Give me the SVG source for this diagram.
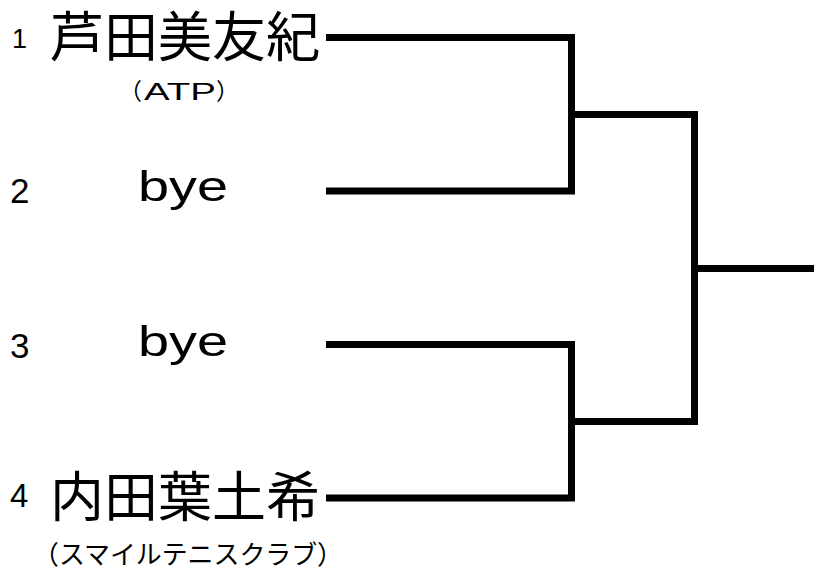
<svg xmlns="http://www.w3.org/2000/svg" width="814" height="568" viewBox="0 0 814 568">
<style>
.num{font-family:"Liberation Sans","Noto Sans CJK JP",sans-serif;fill:#000}
.name{font-family:"Noto Sans CJK JP",sans-serif;font-size:54px;fill:#000}
.club{font-family:"Noto Sans CJK JP",sans-serif;fill:#000}
.lat{font-family:"Liberation Sans",sans-serif}
.bye{font-family:"Liberation Sans",sans-serif;font-size:42px;fill:#000}
.ln{fill:none;stroke:#000;stroke-width:7;stroke-linejoin:miter;stroke-linecap:butt}
</style>
<rect width="814" height="568" fill="#fff"/>
<g id="player1">
<text class="num" x="12" y="48" font-size="27">1</text>
<text class="name" x="50" y="57">芦田美友紀</text>
<text class="club" x="119" y="100" font-size="23"><tspan>（</tspan><tspan class="lat" x="144" textLength="72" lengthAdjust="spacingAndGlyphs">ATP</tspan><tspan x="216">）</tspan></text>
</g>
<g id="player2">
<text class="num" x="10" y="203" font-size="35">2</text>
<text class="bye" x="138" y="201" textLength="90" lengthAdjust="spacingAndGlyphs">bye</text>
</g>
<g id="player3">
<text class="num" x="10" y="358" font-size="35">3</text>
<text class="bye" x="138" y="356" textLength="90" lengthAdjust="spacingAndGlyphs">bye</text>
</g>
<g id="player4">
<text class="num" x="10" y="507" font-size="33">4</text>
<text class="name" x="50" y="517">内田葉土希</text>
<text class="club" x="33" y="564" font-size="26" textLength="310" lengthAdjust="spacingAndGlyphs">（スマイルテニスクラブ）</text>
</g>
<g id="connectors">
<path class="ln" d="M326,37.5 H571.5 V191 H326"/>
<path class="ln" d="M326,344.5 H571.5 V498 H326"/>
<path class="ln" d="M571.5,114.5 H694.5 V421.5 H571.5"/>
<path class="ln" d="M694.5,268.5 H814"/>
</g>
</svg>
